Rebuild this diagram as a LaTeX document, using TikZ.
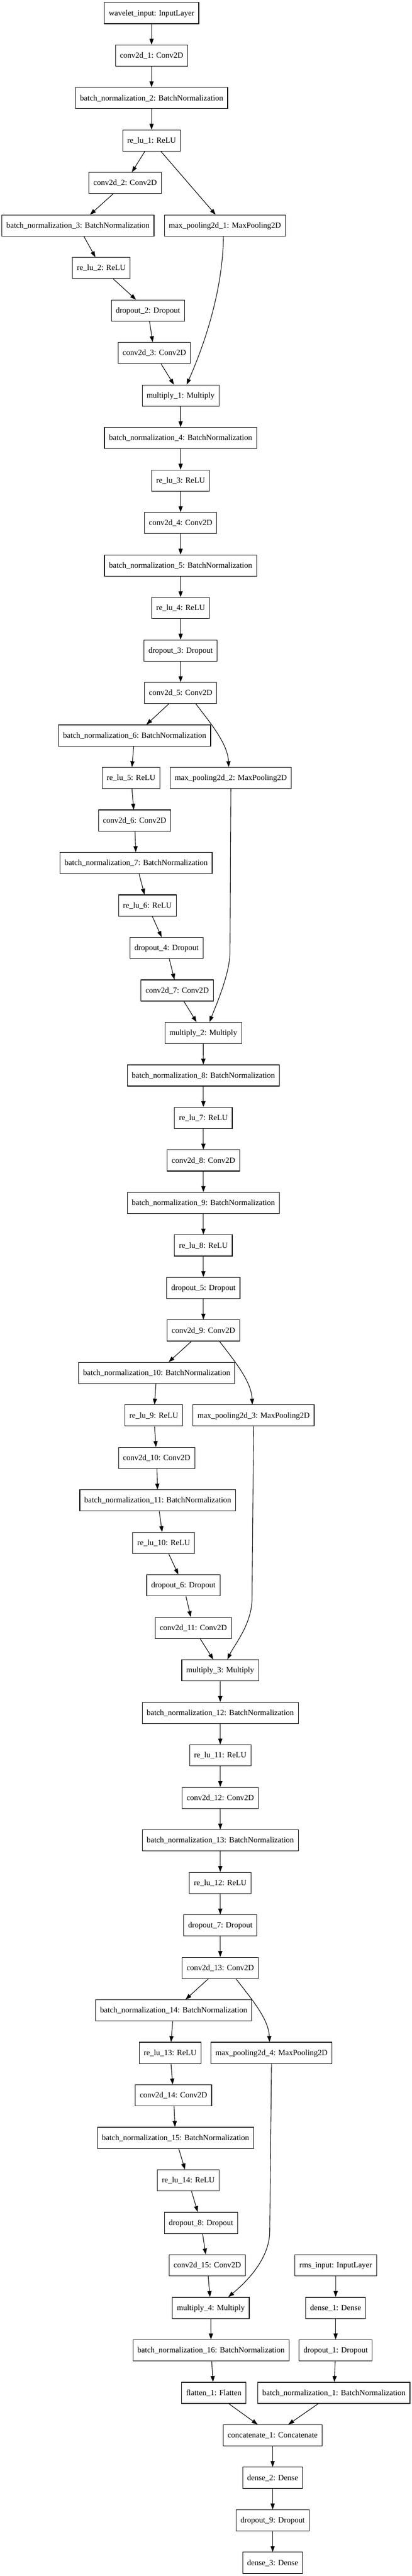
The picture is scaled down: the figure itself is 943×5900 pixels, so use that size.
\documentclass[tikz,border=0pt]{standalone}
\usepackage{fontspec}
\setmainfont{Liberation Serif}
\usetikzlibrary{arrows.meta}
\newcommand{\rY}[1]{29.95+97.33*#1}
\begin{document}
\begin{tikzpicture}[x=1pt,y=-1pt,
  layer/.style={draw=black, line width=1.35pt, fill=white, rectangle,
    minimum height=48.5pt, inner xsep=10.25pt, inner ysep=0pt,
    text height=13.5pt, text depth=2.5pt,
    font=\fontsize{18.28}{22}\selectfont},
  arr/.style={draw=black, line width=1.3pt, -{Triangle[length=13.5pt,width=9.5pt]}}]
\useasboundingbox[fill=white] (0,0) rectangle (943,5900);

% ---- nodes ----
\node[layer] (win) at (347.3,{\rY{0}}) {wavelet\_input: InputLayer};
\node[layer] (c1) at (347.3,{\rY{1}}) {conv2d\_1: Conv2D};
\node[layer] (bn2) at (347.3,{\rY{2}}) {batch\_normalization\_2: BatchNormalization};
\node[layer] (r1) at (347.3,{\rY{3}}) {re\_lu\_1: ReLU};
\node[layer] (c2) at (286.7,{\rY{4}}) {conv2d\_2: Conv2D};
\node[layer] (bn3) at (178.6,{\rY{5}}) {batch\_normalization\_3: BatchNormalization};
\node[layer] (mp1) at (515.4,{\rY{5}}) {max\_pooling2d\_1: MaxPooling2D};
\node[layer] (r2) at (232.2,{\rY{6}}) {re\_lu\_2: ReLU};
\node[layer] (d2) at (338.9,{\rY{7}}) {dropout\_2: Dropout};
\node[layer] (c3) at (353.6,{\rY{8}}) {conv2d\_3: Conv2D};
\node[layer] (m1) at (413.9,{\rY{9}}) {multiply\_1: Multiply};
\node[layer] (bn4) at (413.8,{\rY{10}}) {batch\_normalization\_4: BatchNormalization};
\node[layer] (r3) at (413.8,{\rY{11}}) {re\_lu\_3: ReLU};
\node[layer] (c4) at (413.8,{\rY{12}}) {conv2d\_4: Conv2D};
\node[layer] (bn5) at (413.8,{\rY{13}}) {batch\_normalization\_5: BatchNormalization};
\node[layer] (r4) at (413.8,{\rY{14}}) {re\_lu\_4: ReLU};
\node[layer] (d3) at (413.8,{\rY{15}}) {dropout\_3: Dropout};
\node[layer] (c5) at (413.8,{\rY{16}}) {conv2d\_5: Conv2D};
\node[layer] (bn6) at (308.4,{\rY{17}}) {batch\_normalization\_6: BatchNormalization};
\node[layer] (r5) at (300.3,{\rY{18}}) {re\_lu\_5: ReLU};
\node[layer] (mp2) at (528.9,{\rY{18}}) {max\_pooling2d\_2: MaxPooling2D};
\node[layer] (c6) at (308.4,{\rY{19}}) {conv2d\_6: Conv2D};
\node[layer] (bn7) at (312.0,{\rY{20}}) {batch\_normalization\_7: BatchNormalization};
\node[layer] (r6) at (337.7,{\rY{21}}) {re\_lu\_6: ReLU};
\node[layer] (d4) at (381.6,{\rY{22}}) {dropout\_4: Dropout};
\node[layer] (c7) at (406.0,{\rY{23}}) {conv2d\_7: Conv2D};
\node[layer] (m2) at (465.7,{\rY{24}}) {multiply\_2: Multiply};
\node[layer] (bn8) at (466.0,{\rY{25}}) {batch\_normalization\_8: BatchNormalization};
\node[layer] (r7) at (466.0,{\rY{26}}) {re\_lu\_7: ReLU};
\node[layer] (c8) at (466.0,{\rY{27}}) {conv2d\_8: Conv2D};
\node[layer] (bn9) at (466.0,{\rY{28}}) {batch\_normalization\_9: BatchNormalization};
\node[layer] (r8) at (466.0,{\rY{29}}) {re\_lu\_8: ReLU};
\node[layer] (d5) at (466.0,{\rY{30}}) {dropout\_5: Dropout};
\node[layer] (c9) at (466.0,{\rY{31}}) {conv2d\_9: Conv2D};
\node[layer] (bn10) at (359.0,{\rY{32}}) {batch\_normalization\_10: BatchNormalization};
\node[layer] (r9) at (352.4,{\rY{33}}) {re\_lu\_9: ReLU};
\node[layer] (mp3) at (581.0,{\rY{33}}) {max\_pooling2d\_3: MaxPooling2D};
\node[layer] (c10) at (359.0,{\rY{34}}) {conv2d\_10: Conv2D};
\node[layer] (bn11) at (361.4,{\rY{35}}) {batch\_normalization\_11: BatchNormalization};
\node[layer] (r10) at (375.0,{\rY{36}}) {re\_lu\_10: ReLU};
\node[layer] (d6) at (420.2,{\rY{37}}) {dropout\_6: Dropout};
\node[layer] (c11) at (443.0,{\rY{38}}) {conv2d\_11: Conv2D};
\node[layer] (m3) at (504.5,{\rY{39}}) {multiply\_3: Multiply};
\node[layer] (bn12) at (504.7,{\rY{40}}) {batch\_normalization\_12: BatchNormalization};
\node[layer] (r11) at (504.7,{\rY{41}}) {re\_lu\_11: ReLU};
\node[layer] (c12) at (504.7,{\rY{42}}) {conv2d\_12: Conv2D};
\node[layer] (bn13) at (504.7,{\rY{43}}) {batch\_normalization\_13: BatchNormalization};
\node[layer] (r12) at (504.7,{\rY{44}}) {re\_lu\_12: ReLU};
\node[layer] (d7) at (504.7,{\rY{45}}) {dropout\_7: Dropout};
\node[layer] (c13) at (504.7,{\rY{46}}) {conv2d\_13: Conv2D};
\node[layer] (bn14) at (397.9,{\rY{47}}) {batch\_normalization\_14: BatchNormalization};
\node[layer] (r13) at (389.8,{\rY{48}}) {re\_lu\_13: ReLU};
\node[layer] (mp4) at (622.0,{\rY{48}}) {max\_pooling2d\_4: MaxPooling2D};
\node[layer] (c14) at (397.6,{\rY{49}}) {conv2d\_14: Conv2D};
\node[layer] (bn15) at (402.1,{\rY{50}}) {batch\_normalization\_15: BatchNormalization};
\node[layer] (r14) at (431.3,{\rY{51}}) {re\_lu\_14: ReLU};
\node[layer] (d8) at (460.5,{\rY{52}}) {dropout\_8: Dropout};
\node[layer] (c15) at (475.0,{\rY{53}}) {conv2d\_15: Conv2D};
\node[layer] (rms) at (769.3,{\rY{53}}) {rms\_input: InputLayer};
\node[layer] (m4) at (483.1,{\rY{54}}) {multiply\_4: Multiply};
\node[layer] (de1) at (769.0,{\rY{54}}) {dense\_1: Dense};
\node[layer] (bn16) at (483.4,{\rY{55}}) {batch\_normalization\_16: BatchNormalization};
\node[layer] (d1) at (769.0,{\rY{55}}) {dropout\_1: Dropout};
\node[layer] (fl) at (489.8,{\rY{56}}) {flatten\_1: Flatten};
\node[layer] (bn1) at (765.1,{\rY{56}}) {batch\_normalization\_1: BatchNormalization};
\node[layer] (cat) at (624.7,{\rY{57}}) {concatenate\_1: Concatenate};
\node[layer] (de2) at (624.7,{\rY{58}}) {dense\_2: Dense};
\node[layer] (d9) at (624.7,{\rY{59}}) {dropout\_9: Dropout};
\node[layer] (de3) at (624.7,{\rY{60}}) {dense\_3: Dense};

% bends of the long skip connectors
\coordinate (k2) at (527.0,2180);
\coordinate (k3) at (577.5,3660);
\coordinate (k4) at (618.0,5110);

% ---- connectors ----
\foreach \a/\b in {win/c1, c1/bn2, bn2/r1, r1/c2, r1/mp1, c2/bn3, bn3/r2, r2/d2, d2/c3, c3/m1,
  m1/bn4, bn4/r3, r3/c4, c4/bn5, bn5/r4, r4/d3, d3/c5, c5/bn6, bn6/r5, r5/c6, c6/bn7, bn7/r6,
  r6/d4, d4/c7, c7/m2, m2/bn8, bn8/r7, r7/c8, c8/bn9, bn9/r8, r8/d5, d5/c9, c9/bn10, bn10/r9,
  r9/c10, c10/bn11, bn11/r10, r10/d6, d6/c11, c11/m3, m3/bn12, bn12/r11, r11/c12, c12/bn13,
  bn13/r12, r12/d7, d7/c13, c13/bn14, bn14/r13, r13/c14, c14/bn15, bn15/r14, r14/d8, d8/c15,
  c15/m4, m4/bn16, bn16/fl, rms/de1, de1/d1, d1/bn1, fl/cat, bn1/cat, cat/de2, de2/d9, d9/de3}
  \draw[arr] (\a) -- (\b);

% curved connectors
\draw[arr] ([xshift=-3.4pt]mp1.south) .. controls +(-2,150) and +(22,-50) .. ([xshift=13.8pt]m1.north);
\draw[arr] ([xshift=35pt]c5.south) .. controls +(30,40) and +(-2,-55) .. ([xshift=-5pt]mp2.north);
\draw[arr] ([xshift=37pt]c9.south) .. controls +(30,40) and +(-2,-55) .. ([xshift=-3pt]mp3.north);
\draw[arr] ([xshift=36pt]c13.south) .. controls +(30,40) and +(-2,-55) .. ([xshift=-4.5pt]mp4.north);
\draw[arr] (mp2.south) -- (k2) .. controls +(0,50) and +(14,-36) .. ([xshift=14.3pt]m2.north);
\draw[arr] (mp3.south) -- (k3) .. controls +(0,60) and +(16,-34) .. ([xshift=16.5pt]m3.north);
\draw[arr] (mp4.south) -- (k4) .. controls +(0,70) and +(30,-25) .. ([xshift=40pt]m4.north);
\end{tikzpicture}
\end{document}
